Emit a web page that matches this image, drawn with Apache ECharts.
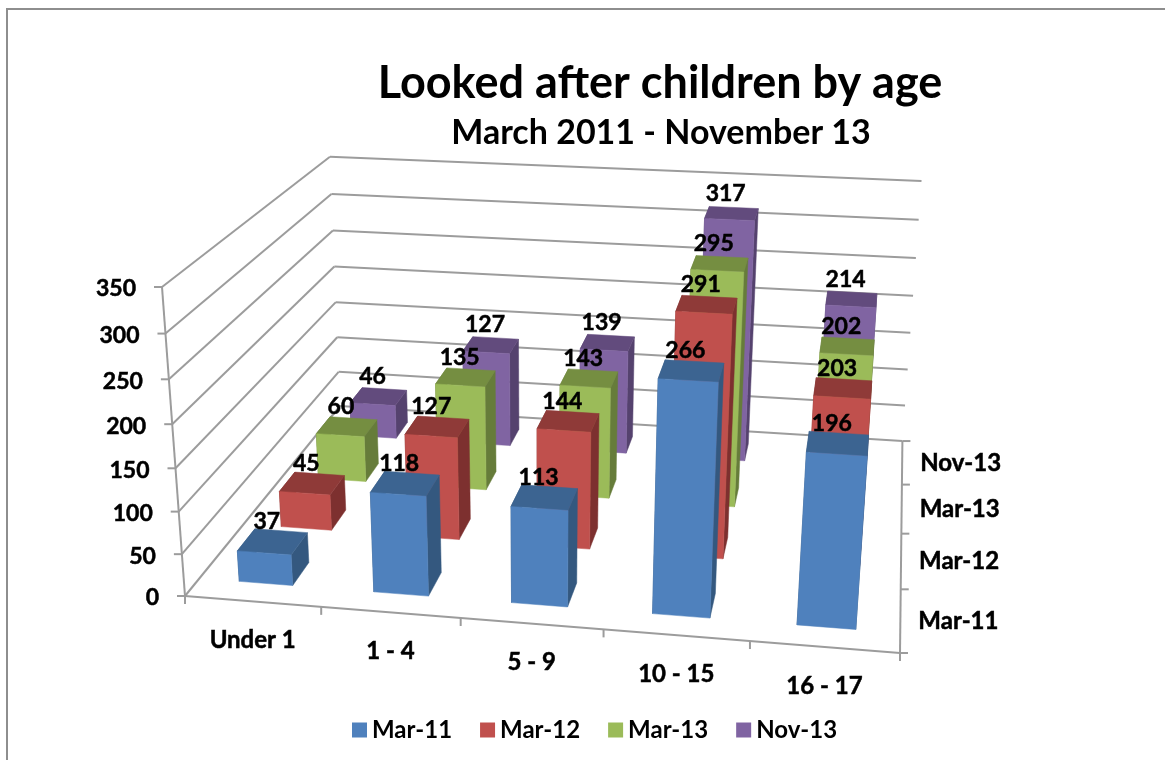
<!DOCTYPE html>
<html>
<head>
<meta charset="utf-8">
<style>html,body{margin:0;padding:0;background:#fff}#chart{width:1165px;height:760px}</style>
<script src="https://cdn.jsdelivr.net/npm/echarts@6/dist/echarts.min.js"></script>
</head>
<body>
<div id="chart"></div>
<script>
// Children in care by age band, at four census dates.
const ageBands = ['Under 1', '1 - 4', '5 - 9', '10 - 15', '16 - 17'];
const dates = ['Mar-11', 'Mar-12', 'Mar-13', 'Nov-13'];
const mar11 = [37, 118, 113, 266, 196];
const mar12 = [45, 127, 144, 291, 203];
const mar13 = [60, 135, 143, 295, 202];
const nov13 = [46, 127, 139, 317, 214];
const valueTicks = [0, 50, 100, 150, 200, 250, 300, 350];

const rows = [mar11, mar12, mar13, nov13];
const FONT = 'Lato, Carlito, sans-serif';
const LINE = '#9c9c9c';
const LABEL_SIZE = 24;
const NUMBER_SIZE = 23;
// front, top and side shades for each date
const shades = [
  ['#4f81bd', '#3c6491', '#34587f'],
  ['#c0504d', '#8f3a38', '#7d302f'],
  ['#9bbb59', '#758e41', '#667c3a'],
  ['#8064a2', '#624b7d', '#55426e']
];

// Box corners on the page; the perspective is solved from them.
const O = [185, 596], EX = [900, 653], EY = [162, 287], EZ = [340, 406];
const corners = [
  [1, 0, 1, 902, 441],
  [0, 1, 1, 328, 157],
  [1, 1, 1, 922, 181]
];

function solveWeights() {
  const A = [[0, 0, 0], [0, 0, 0], [0, 0, 0]], b = [0, 0, 0];
  corners.forEach(([X, Y, Z, pu, pv]) => {
    [pu, pv].forEach((p, k) => {
      const row = [X * (p - EX[k]), Y * (p - EY[k]), Z * (p - EZ[k])];
      const rhs = O[k] * (1 - X - Y - Z) + X * EX[k] + Y * EY[k] + Z * EZ[k] - p;
      for (let i = 0; i < 3; i++) {
        b[i] += row[i] * rhs;
        for (let j = 0; j < 3; j++) A[i][j] += row[i] * row[j];
      }
    });
  });
  for (let i = 0; i < 3; i++) {
    for (let r = i + 1; r < 3; r++) {
      const f = A[r][i] / A[i][i];
      for (let c = i; c < 3; c++) A[r][c] -= f * A[i][c];
      b[r] -= f * b[i];
    }
  }
  const w = [0, 0, 0];
  for (let i = 2; i >= 0; i--) {
    let s = b[i];
    for (let c = i + 1; c < 3; c++) s -= A[i][c] * w[c];
    w[i] = s / A[i][i];
  }
  return w;
}
const W = solveWeights();

// Unit box coordinates (X along ages, Y up, Z into the page) to page pixels.
function project(X, Y, Z) {
  const h = 1 + W[0] * X + W[1] * Y + W[2] * Z;
  return [0, 1].map(k => (
    O[k] + X * ((1 + W[0]) * EX[k] - O[k]) + Y * ((1 + W[1]) * EY[k] - O[k]) + Z * ((1 + W[2]) * EZ[k] - O[k])
  ) / h);
}

// The hidden cartesian grid supplies the scales; its pixels are turned into unit box coordinates.
const G = { left: 100, top: 100, width: 500, height: 500 };
const unitX = px => (px - G.left) / G.width;
const unitY = py => (G.top + G.height - py) / G.height;
const rowCentre = r => (r + 0.5) / dates.length;

const poly = (points, fill) => ({
  type: 'polygon',
  shape: { points },
  style: { fill, stroke: fill, lineWidth: 0.5 }
});
const seg = (a, b) => ({
  type: 'line',
  shape: { x1: a[0], y1: a[1], x2: b[0], y2: b[1] },
  style: { stroke: LINE, lineWidth: 2, fill: null }
});
const txt = (text, x, y, align, size) => ({
  type: 'text',
  style: {
    text, x, y, align, verticalAlign: 'middle',
    fill: '#000', stroke: '#000', lineWidth: 0.5,
    font: 'bold ' + size + 'px ' + FONT
  }
});

function barItem(r) {
  return function (params, api) {
    const c = api.coord([api.value(0), api.value(1)]);
    const band = api.size([1, 0])[0];
    const x0 = unitX(c[0] - band * 0.2), x1 = unitX(c[0] + band * 0.2);
    const y = unitY(c[1]);
    const z0 = (r + 0.3) / dates.length, z1 = (r + 0.7) / dates.length;
    const p = (X, Y, Z) => project(X, Y, Z);
    const s = shades[r];
    return {
      type: 'group',
      children: [
        poly([p(x1, 0, z0), p(x1, 0, z1), p(x1, y, z1), p(x1, y, z0)], s[2]),
        poly([p(x0, 0, z0), p(x0, 0, z1), p(x0, y, z1), p(x0, y, z0)], s[2]),
        poly([p(x0, y, z0), p(x1, y, z0), p(x1, y, z1), p(x0, y, z1)], s[1]),
        poly([p(x0, 0, z0), p(x1, 0, z0), p(x1, y, z0), p(x0, y, z0)], s[0])
      ]
    };
  };
}

// Value gridlines on the left and back walls, with their ticks and labels.
function wallItem(params, api) {
  const v = api.value(1);
  const y = unitY(api.coord([0, v])[1]);
  const a = project(0, y, 0), b = project(0, y, 1), d = project(1, y, 1);
  const children = [
    seg(a, b), seg(b, d),
    seg([a[0] - 8, a[1]], a),
    txt(String(v), a[0] - 26, a[1] + 2, 'right', NUMBER_SIZE)
  ];
  if (v === 0) {
    const e = project(1, 0, 0), f = project(1, 0, 1);
    children.push(seg(a, e), seg(e, f), seg(a, project(0, 1, 0)));
    children.push(seg(a, [a[0], a[1] + 8]));
  }
  return { type: 'group', children };
}

// Ticks and labels along the front edge.
function ageItem(params, api) {
  const i = api.value(0);
  const c = api.coord([i, 0]);
  const band = api.size([1, 0])[0];
  const tick = project(unitX(c[0] + band / 2), 0, 0);
  const mid = project(unitX(c[0]), 0, 0);
  return {
    type: 'group',
    children: [
      seg(tick, [tick[0], tick[1] + 8]),
      txt(ageBands[i], mid[0], mid[1] + 39, 'center', LABEL_SIZE)
    ]
  };
}

// Ticks and labels along the right edge of the floor.
function dateItem(params, api) {
  const r = api.value(0);
  const end = project(1, 0, (r + 1) / dates.length);
  const mid = project(1, 0, rowCentre(r));
  const kids = [
    seg(end, [end[0] + 8, end[1]]),
    txt(dates[r], mid[0] + 18, mid[1] + 1, 'left', LABEL_SIZE)
  ];
  if (r === 0) {
    const start = project(1, 0, 0);
    kids.push(seg(start, [start[0] + 8, start[1]]));
  }
  return { type: 'group', children: kids };
}

// Value labels sit above everything else, centred over each bar's top.
function valueItem(params, api) {
  const i = api.value(0), r = api.value(2);
  const c = api.coord([i, api.value(1)]);
  const top = project(unitX(c[0]), unitY(c[1]), rowCentre(r));
  return txt(String(api.value(1)), top[0] - 6, top[1] - 20, 'center', NUMBER_SIZE);
}

const hidden = { show: false };
const series = rows.map((values, r) => ({
  name: dates[r],
  type: 'custom',
  coordinateSystem: 'cartesian2d',
  z: 10 - r,
  itemStyle: { color: shades[r][0] },
  renderItem: barItem(r),
  data: values.map((v, i) => [i, v]),
  silent: true
}));
const overlay = (z, renderItem, data) => ({
  type: 'custom', coordinateSystem: 'cartesian2d', z, renderItem, data, silent: true
});
series.push(overlay(1, wallItem, valueTicks.map(v => [0, v])));
series.push(overlay(1, ageItem, ageBands.map((_, i) => [i, 0])));
series.push(overlay(1, dateItem, dates.map((_, r) => [r, 0])));
series.push(overlay(20, valueItem, rows.flatMap((values, r) => values.map((v, i) => [i, v, r]))));

const chart = echarts.init(document.getElementById('chart'), null, { renderer: 'canvas' });
chart.setOption({
  animation: false,
  backgroundColor: '#fff',
  title: [
    { text: 'Looked after children by age', left: 655, top: 56, textAlign: 'center',
      textStyle: { fontFamily: FONT, fontWeight: 'bold', fontSize: 45, color: '#000' } },
    { text: 'March 2011 - November 13', left: 656, top: 111, textAlign: 'center',
      textStyle: { fontFamily: FONT, fontWeight: 'bold', fontSize: 34, color: '#000' } }
  ],
  legend: {
    data: dates, left: 347, top: 713, itemWidth: 15, itemHeight: 15, itemGap: 28,
    icon: 'rect', selectedMode: false,
    textStyle: { fontFamily: FONT, fontWeight: 'bold', fontSize: LABEL_SIZE, color: '#000' }
  },
  grid: { ...G, show: false },
  xAxis: { type: 'category', data: ageBands, ...hidden },
  yAxis: { type: 'value', min: 0, max: 350, interval: 50, ...hidden },
  graphic: [
    { type: 'polyline', shape: { points: [[7, 760], [7, 9], [1165, 9]] },
      style: { stroke: '#8e8e8e', lineWidth: 2, fill: null } }
  ],
  series
});
</script>
</body>
</html>
